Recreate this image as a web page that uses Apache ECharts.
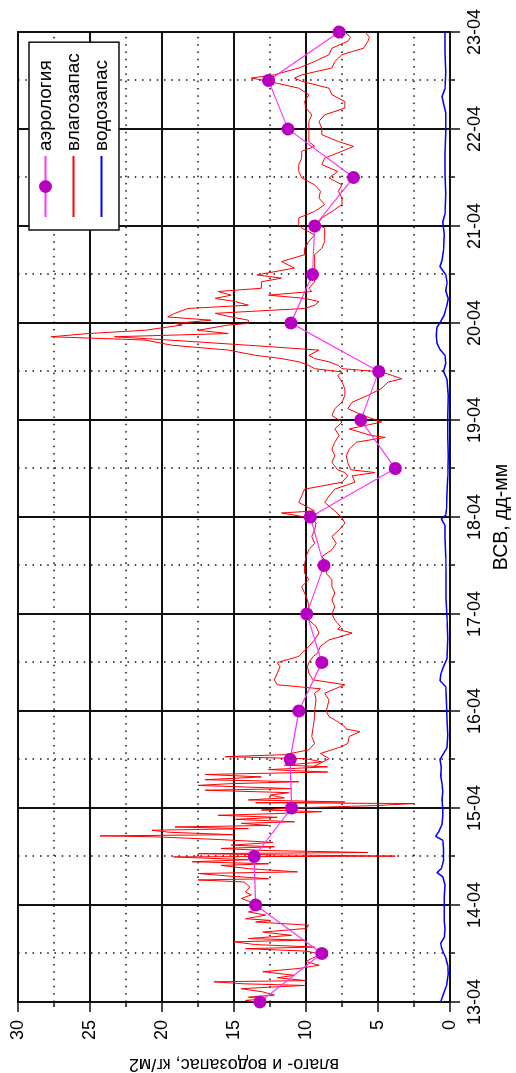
<!DOCTYPE html>
<html>
<head>
<meta charset="utf-8">
<script src="https://cdn.jsdelivr.net/npm/echarts@6.0.0/dist/echarts.min.js"></script>
<style>
  html, body { margin: 0; padding: 0; background: #fff; overflow: hidden; width: 516px; height: 1073px; }
  /* The chart is laid out landscape and turned a quarter turn counter-clockwise */
  #chart { position: absolute; left: 0; top: 0; width: 1073px; height: 516px;
           transform-origin: 0 0; transform: translate(0, 1073px) rotate(-90deg); }
</style>
</head>
<body>
<div id="chart"></div>
<script>
// Day labels of the time axis (UTC, dd-mm); one per 24 h starting 13-04 00:00
const dateLabels = ['13-04','14-04','15-04','16-04','17-04','18-04','19-04','20-04','21-04','22-04','23-04'];

// Radiosonde (aerology) precipitable water, every 12 h, kg/m2
const aeroHours  = [0,12,24,36,48,60,72,84,96,108,120,132,144,156,168,180,192,204,216,228,240];
const aeroValues = [13.2,8.9,13.5,13.6,11.0,11.1,10.5,8.9,9.95,8.75,9.7,3.8,6.2,4.95,11.05,9.55,9.4,6.7,11.25,12.6,7.7];

// Radiometer water vapour content [hour, kg/m2], first trace
const moistA = [
  [0,13.5],[0.4,14.2],[0.8,12.8],[1.2,14.0],[1.7,12.2],[2.5,13.0],[3.3,14.5],[4.1,10.1],[4.5,14.3],[5.0,16.4],
  [5.3,10.0],[6.0,12.0],[6.6,10.8],[7.5,13.0],[8.3,10.5],[9.1,9.1],[10,10.0],[10.8,9.6],[11.8,8.9],[12.6,10.0],
  [13.2,14.2],[13.6,9.4],[14.2,13.5],[14.9,15.0],[15.3,10.1],[15.7,14.0],[16.5,11.0],[17.3,13.0],[18.2,10.0],[19.0,9.8],
  [19.8,13.5],[20.2,12.5],[20.6,14.2],[21.5,12.8],[22.3,14.0],[23,13.1],[24,13.5],[25,14.0],[25.6,14.5],[26.5,13.8],
  [27.2,14.2],[28.5,13.9],[29.7,14.3],[30.2,17.5],[30.5,12.6],[31.2,15.5],[31.8,17.5],[32.2,10.6],[33.0,14.0],[33.8,15.9],
  [34.2,12.6],[34.7,17.9],[35.2,14.0],[35.9,19.2],[36.1,3.8],[36.4,12.0],[36.7,17.5],[37.0,5.7],[37.5,13.0],[38,15.9],
  [38.4,12.2],[38.8,15.2],[39.5,12.3],[40.2,16.0],[40.9,20.7],[41.1,24.3],[41.4,15.0],[42,19.5],[42.5,20.7],[42.9,14.0],
  [43.3,19.1],[43.7,12.6],[44.2,14.5],[44.6,10.8],[45.2,14.9],[45.7,12.0],[46.2,16.1],[46.6,12.2],[47.1,8.9],[47.5,13.1],
  [48,11.0],[48.6,5.2],[49.1,2.5],[49.3,13.5],[49.5,7.3],[50,14.0],[50.5,11.5],[51.2,12.5],[51.8,11.2],[52.4,17.0],
  [52.8,11.0],[53.6,17.5],[54,15.4],[54.5,10.5],[55,17.0],[55.7,13.1],[56.3,17.0],[56.9,8.5],[57.5,12.6],[58.2,8.5],
  [58.6,11.5],[59.4,8.9],[60.2,10.0],[60.7,15.6],[61.2,11.5],[62.4,9.8],[64,9.4],[65.7,9.6],[68.1,9.5],[70.6,9.4],
  [72,9.4],[74.7,9.3],[76.4,9.4],[77.5,9.0],[78.5,12.0],[79.7,12.2],[81.3,12.0],[83,11.8],[84,12.0],[85.5,10.5],
  [86.3,10.3],[88,9.8],[89.6,9.4],[91.3,9.1],[92.9,9.3],[94.5,9.8],[96,9.9],[97.8,9.8],[99.5,9.9],[101.2,10.1],
  [102.8,10.3],[104.5,9.8],[106.1,10.1],[108.2,10.1],[110.2,10.0],[111.9,9.8],[113.5,9.4],[115.2,9.6],[116.8,9.4],[118.5,9.3],
  [119.8,9.7],[121,11.7],[121.5,9.4],[123.6,10.5],[125.2,10.3],[126.9,10.1],[128.6,7.5],[130.2,7.1],[131,7.3],[131.7,7.8],
  [133.5,8.2],[135.2,8.0],[136.8,8.2],[138.5,8.0],[140.2,7.7],[141.8,8.0],[143.5,7.5],[145.1,8.2],[146.8,8.0],[148.4,7.5],
  [150.1,7.3],[151.7,7.3],[153.4,7.5],[155,7.8],[155.9,7.5],[156.7,9.4],[157.5,9.8],[158.4,10.5],[159.2,11.7],[160,13.5],
  [161.3,15.4],[162.5,19.3],[163.8,21.2],[164.6,27.7],[165.4,25.1],[166.2,21.2],[167.5,18.6],[167.9,19.1],[168.7,16.6],[169.5,19.6],
  [170.4,19.1],[171.6,18.2],[172.4,14.0],[173.3,14.9],[174.1,16.3],[174.9,15.2],[175.8,16.1],[176.6,13.1],[178.2,13.1],[179.1,11.7],
  [179.9,13.4],[181.6,10.8],[183.2,11.7],[184.9,10.1],[186.5,10.1],[188.2,9.8],[189.8,9.4],[191.5,10.3],[192.3,10.5],[194,10.5],
  [195.6,9.4],[197.3,8.7],[198.9,9.1],[200.6,9.0],[202.2,9.4],[203.9,10.3],[205.5,10.5],[207.2,10.5],[208.8,10.3],[210.5,10.3],
  [211.7,9.4],[212.9,9.8],[214.6,9.8],[216.1,9.8],[217.9,9.8],[219.5,9.6],[221.2,10.0],[222.8,10.1],[224.5,9.8],[226.1,10.5],
  [227.8,12.6],[228.6,13.8],[229.4,12.2],[231.1,10.5],[232.7,9.4],[234.4,8.4],[236,8.2],[237.7,7.1],[238.7,6.9],[240,7.3]
];

// Radiometer water vapour content [hour, kg/m2], second trace
const moistB = [
  [58.2,9.5],[60.2,8.4],[61.5,9.0],[63.2,7.5],[64,7.1],[65.7,7.0],[66.9,6.25],[67.5,7.2],[68.1,7.3],[69.8,8.0],
  [70.6,8.4],[72,8.6],[74.7,8.4],[76.4,8.7],[78.5,7.3],[79.7,9.5],[81.3,9.8],[83,9.9],[84,9.8],[85.5,9.5],
  [86.3,9.2],[88,9.0],[89.6,8.4],[90.5,7.5],[91.3,6.8],[92.2,7.8],[92.9,7.6],[94.5,8.0],[96,8.2],[97.8,8.0],
  [99.5,8.2],[101.2,8.0],[102.8,8.2],[104.5,8.2],[106.1,8.6],[108.2,8.4],[110.2,8.9],[111.9,8.2],[113.5,7.9],[115.2,8.2],
  [116.8,7.7],[118.5,7.3],[119.8,7.5],[121.5,8.0],[123.6,8.7],[125.2,8.4],[126.9,8.0],[128.6,6.6],[130.2,6.8],[131,5.2],
  [131.7,6.9],[133.5,7.1],[135.2,7.2],[136.8,7.0],[138.5,6.5],[139.7,4.5],[140.2,5.5],[141.8,7.0],[143.5,4.75],[145.1,6.0],
  [146.8,7.1],[148.4,6.8],[150.1,5.7],[151.7,4.8],[153.4,4.3],[154.2,3.35],[155,4.0],[155.9,4.75],[156.7,7.5],[157.5,7.75],
  [158.4,8.4],[159.2,9.4],[160,9.8],[161.3,9.1],[162.5,14.0],[163.8,19.6],[164.6,23.3],[165.4,15.4],[166.2,17.5],[167.5,15.4],
  [167.9,14.0],[168.7,14.0],[169.5,15.2],[170.4,16.3],[171.6,10.1],[172.4,9.4],[173.3,9.1],[174.1,10.1],[174.9,12.6],[175.8,9.6],
  [176.6,9.8],[178.2,9.4],[179.1,9.4],[179.9,9.4],[181.6,9.4],[183.2,9.4],[184.9,9.4],[186.5,8.9],[188.2,8.7],[189.8,8.7],
  [191.5,8.7],[192.3,9.2],[194,8.9],[195.6,8.2],[197.3,7.5],[198.9,7.5],[200.6,7.75],[202.2,7.5],[203.9,8.4],[205.5,7.8],
  [207.2,8.9],[208.8,8.7],[210.5,7.5],[211.7,6.7],[212.9,7.75],[214.6,8.9],[216.1,8.9],[217.9,9.1],[219.5,8.7],[221.2,7.3],
  [222.8,7.3],[224.5,8.2],[226.1,8.4],[227.8,10.3],[228.6,10.8],[229.4,10.3],[231.1,8.2],[232.7,8.0],[234.4,7.5],[236,6.0],
  [237.7,5.7],[238.7,5.6],[240,5.9]
];

// Radiometer liquid water content [hour, kg/m2]
const waterStore = [
  [0,0.65],[2,0.45],[4,0.25],[7,0.12],[9,0.15],[11,0.3],[13,0.55],[14.5,0.65],[16,0.4],[18,0.35],
  [20,0.4],[23,0.4],[26,0.4],[29,0.35],[31,0.5],[32,0.9],[33,0.6],[35,0.45],[38,0.45],[40,0.5],
  [41,1.0],[42,0.8],[44,0.55],[46,0.5],[48,0.5],[50,0.55],[52,0.5],[54,0.55],[56,0.65],[58,0.6],
  [60,0.7],[61.5,0.45],[63,0.2],[66,0.15],[70,0.2],[74,0.25],[78,0.3],[79.5,0.7],[81,0.65],[83,0.45],
  [85,0.2],[90,0.15],[95,0.2],[100,0.28],[105,0.28],[110,0.3],[115,0.35],[118,0.35],[119.5,0.6],[120.5,0.3],
  [122,0.25],[126,0.2],[130,0.15],[135,0.12],[140,0.15],[145,0.15],[150,0.12],[154,0.2],[156,0.45],[158,0.3],
  [160,0.35],[161.5,0.7],[163,0.9],[165,0.95],[167,0.9],[168,0.7],[170,0.4],[172,0.25],[174,0.12],[176,0.3],
  [178,0.2],[180,0.3],[182,0.7],[183.5,0.55],[186,0.45],[190,0.4],[193,0.5],[195,0.35],[200,0.3],[205,0.35],
  [210,0.35],[215,0.3],[220,0.3],[224,0.55],[226,0.35],[230,0.3],[235,0.35],[240,0.35]
];

const FONT = 'Liberation Sans, Arial, sans-serif';
const chart = echarts.init(document.getElementById('chart'), null, { renderer: 'canvas' });

const majorLine = { show: true, lineStyle: { color: '#111', width: 2 } };
const minorLine = { show: true, lineStyle: { color: '#111', width: 1.5, type: [1.5, 5.8] } };
// Legend entries of the plain lines show only the stroke, without a marker
const lineOnly = { itemStyle: { opacity: 0 } };

chart.setOption({
  animation: false,
  backgroundColor: '#fff',
  grid: { left: 71, right: 32, top: 18, bottom: 66, outerBoundsMode: 'none', containLabel: false,
          show: true, borderColor: '#111', borderWidth: 2 },
  legend: {
    orient: 'vertical', left: 843, top: 29,
    padding: [7, 11, 8, 12], itemGap: 9, itemWidth: 61, itemHeight: 16,
    backgroundColor: '#fff', borderColor: '#111', borderWidth: 1.5, borderRadius: 0,
    textStyle: { fontFamily: FONT, fontSize: 19, color: '#000' },
    data: [
      { name: 'аэрология' },
      Object.assign({ name: 'влагозапас' }, lineOnly),
      Object.assign({ name: 'водозапас' }, lineOnly)
    ]
  },
  xAxis: {
    type: 'value', min: 0, max: 240, interval: 24,
    name: 'ВСВ, дд-мм', nameLocation: 'middle', nameGap: 42,
    nameTextStyle: { fontFamily: FONT, fontSize: 19.5, color: '#000' },
    axisLine: { show: true, lineStyle: { color: '#111', width: 2 } },
    axisTick: { show: true, length: 10, lineStyle: { color: '#111', width: 1.5 } },
    minorTick: { show: true, splitNumber: 2, length: 5, lineStyle: { color: '#111', width: 1.5 } },
    axisLabel: { margin: 16, fontFamily: FONT, fontSize: 18, color: '#000',
                 showMinLabel: true, showMaxLabel: true,
                 formatter: v => dateLabels[Math.round(v / 24)] },
    splitLine: majorLine,
    minorSplitLine: minorLine
  },
  yAxis: {
    type: 'value', min: 0, max: 30, interval: 5,
    name: 'влаго- и водозапас, кг/м2', nameLocation: 'middle', nameGap: 53, nameRotate: 90,
    nameTextStyle: { fontFamily: FONT, fontSize: 18, color: '#000' },
    axisLine: { show: true, lineStyle: { color: '#111', width: 2 } },
    axisTick: { show: true, length: 10, lineStyle: { color: '#111', width: 1.5 } },
    minorTick: { show: true, splitNumber: 2, length: 5, lineStyle: { color: '#111', width: 1.5 } },
    axisLabel: { margin: 18, fontFamily: FONT, fontSize: 18, color: '#000' },
    splitLine: majorLine,
    minorSplitLine: minorLine
  },
  series: [
    {
      name: 'аэрология', type: 'line', z: 5,
      data: aeroHours.map((h, i) => [h, aeroValues[i]]),
      symbol: 'circle', symbolSize: 13, showAllSymbol: true,
      lineStyle: { color: '#ff33ff', width: 1.2 },
      itemStyle: { color: '#b800c0' }
    },
    {
      name: 'влагозапас', type: 'line', z: 3,
      data: moistA, symbol: 'none',
      lineStyle: { color: '#ff0000', width: 1 }, itemStyle: { color: '#ff0000' }
    },
    {
      name: 'влагозапас', type: 'line', z: 3,
      data: moistB, symbol: 'none',
      lineStyle: { color: '#ff0000', width: 1 }, itemStyle: { color: '#ff0000' }
    },
    {
      name: 'водозапас', type: 'line', z: 4,
      data: waterStore, symbol: 'none',
      lineStyle: { color: '#0000ff', width: 1.5 }, itemStyle: { color: '#0000ff' }
    }
  ]
});
</script>
</body>
</html>
